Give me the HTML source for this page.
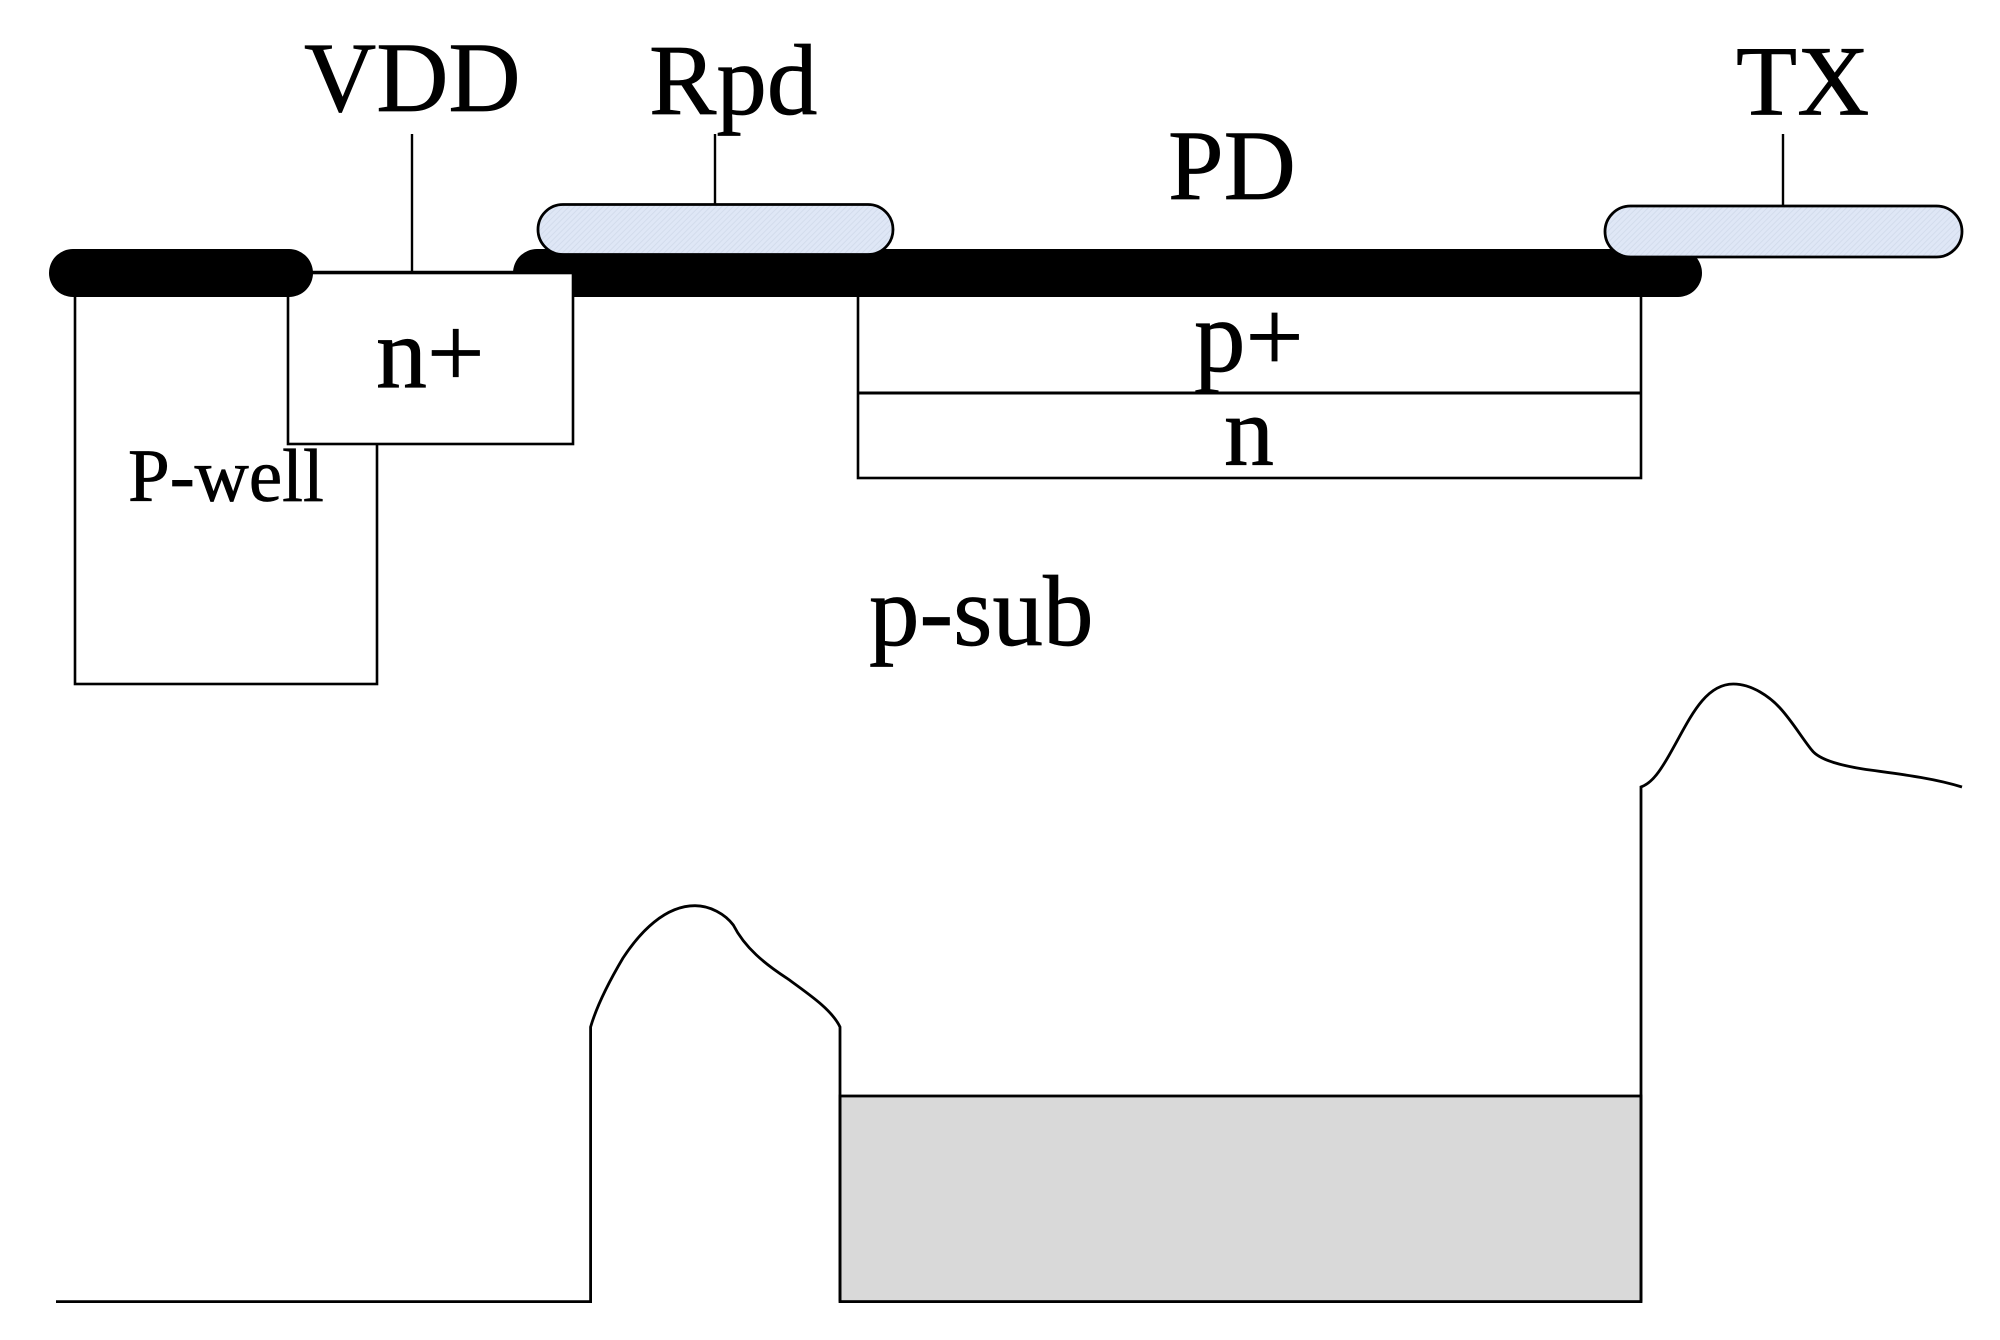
<!DOCTYPE html>
<html>
<head>
<meta charset="utf-8">
<style>
html,body{margin:0;padding:0;background:#fff;width:2000px;height:1340px;overflow:hidden}
svg{display:block}
text{font-family:"Liberation Serif",serif;fill:#000;stroke:#000;stroke-width:.7px}
</style>
</head>
<body>
<svg width="2000" height="1340" viewBox="0 0 2000 1340" xmlns="http://www.w3.org/2000/svg">
<defs>
<pattern id="h" width="4" height="4" patternUnits="userSpaceOnUse" patternTransform="rotate(45)">
<rect width="4" height="4" fill="#dfe7f6"/>
<rect width="1" height="4" fill="#d3dcec"/>
</pattern>
</defs>
<rect width="2000" height="1340" fill="#fff"/>

<!-- P-well -->
<rect x="75" y="290" width="302" height="394" fill="none" stroke="#000" stroke-width="2.6"/>
<!-- PD region -->
<rect x="858" y="290" width="783" height="188" fill="none" stroke="#000" stroke-width="2.6"/>
<line x1="858" y1="393" x2="1641" y2="393" stroke="#000" stroke-width="3"/>

<!-- oxide bars -->
<rect x="49" y="249" width="264" height="48" rx="24" ry="24" fill="#000"/>
<rect x="513" y="249" width="1189" height="48" rx="24" ry="24" fill="#000"/>
<line x1="300" y1="272" x2="530" y2="272" stroke="#000" stroke-width="2.6"/>

<!-- n+ box -->
<rect x="288" y="273" width="285" height="171" fill="#fff" stroke="#000" stroke-width="2.6"/>
<path d="M289 272 V297 A24 24 0 0 0 313 273 Z" fill="#000"/>

<!-- leads -->
<line x1="412" y1="134" x2="412" y2="272" stroke="#000" stroke-width="2.4"/>
<line x1="715" y1="134" x2="715" y2="204" stroke="#000" stroke-width="2.4"/>
<line x1="1783" y1="134" x2="1783" y2="206" stroke="#000" stroke-width="2.4"/>

<!-- gates -->
<rect x="538" y="204.5" width="355" height="50" rx="25" ry="25" fill="url(#h)" stroke="#000" stroke-width="2.8"/>
<rect x="1605" y="206" width="357" height="51" rx="25.5" ry="25.5" fill="url(#h)" stroke="#000" stroke-width="2.8"/>

<!-- potential diagram -->
<rect x="840" y="1096" width="801" height="205.6" fill="#d9d9d9" stroke="#000" stroke-width="2.8"/>
<path d="M56 1301.6 H590.6 V1027 C597 1005 610 980 623 958 C640 932 665 905.7 695 905.7 C710 905.7 725 914 733.3 925 C745 948 765 964 787 978.3 C810 995 832 1010 840 1027 V1301.6" fill="none" stroke="#000" stroke-width="2.8"/>
<path d="M1641 1301.6 V787 C1652 783 1660 772 1673 748.3 C1690 718 1705 684 1733.3 684 C1752 684 1770 697 1780 708 C1792 721 1802 738 1811.7 750 C1820 761 1845 766 1863 769 C1890 773 1930 777 1962 787" fill="none" stroke="#000" stroke-width="2.8"/>

<!-- labels -->
<text x="304" y="111" font-size="100">VDD</text>
<text x="649" y="114" font-size="101">Rpd</text>
<text x="1168" y="199" font-size="100">PD</text>
<text x="1736" y="114.5" font-size="100">TX</text>
<text x="376" y="387" font-size="102">n+</text>
<text x="1194" y="371" font-size="103">p+</text>
<text x="1224" y="465" font-size="100">n</text>
<text x="128" y="501" font-size="75">P-well</text>
<text x="869" y="645" font-size="101">p-sub</text>
</svg>
</body>
</html>
